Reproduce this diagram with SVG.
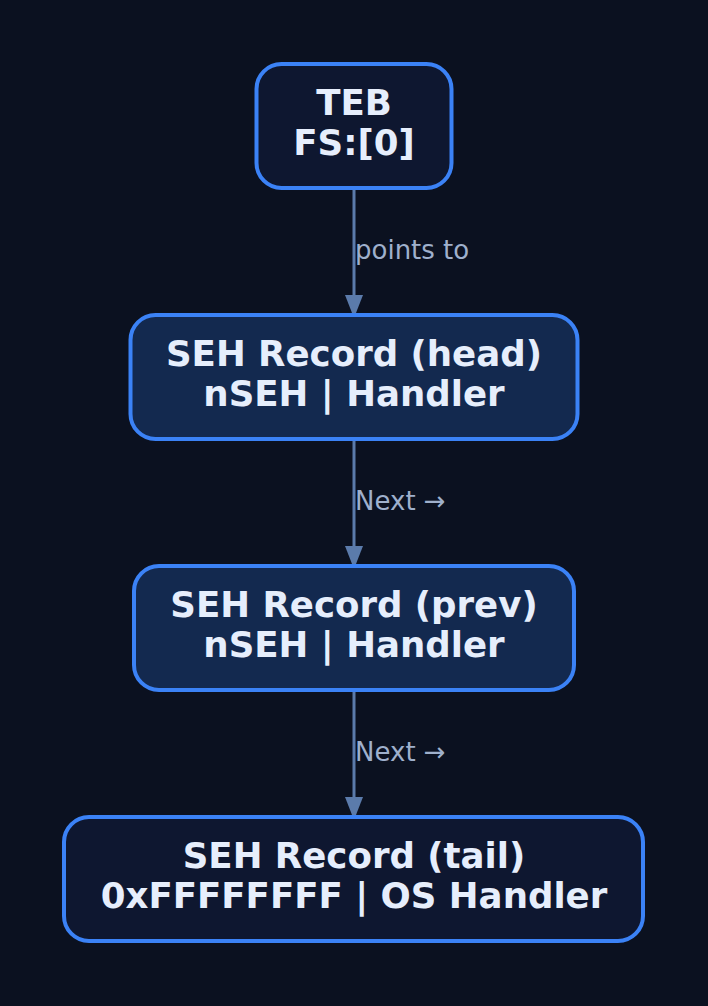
<svg xmlns="http://www.w3.org/2000/svg" width="708" height="1006" viewBox="0 0 708 1006">
<style>
.bg{fill:#0b1120}
.node rect{stroke:#3b82f6;stroke-width:4}
.dark{fill:#0e1730}
.mid{fill:#13294f}
.node text{font-family:"DejaVu Sans",sans-serif;font-weight:bold;font-size:35.6px;fill:#e6eefc;text-anchor:middle}
.edge line{stroke:#5b7bab;stroke-width:3}
.edge path{fill:#5b7bab}
.lbl{font-family:"DejaVu Sans",sans-serif;font-size:26px;fill:#9fb0cc}
</style>
<rect class="bg" x="0" y="0" width="708" height="1006"/>
<g id="connectors" class="edge">
<line x1="354" y1="188" x2="354" y2="296"/>
<path d="M345,295 L363,295 L354,318 Z"/>
<text class="lbl" x="355" y="259">points to</text>
<line x1="354" y1="439" x2="354" y2="547"/>
<path d="M345,546 L363,546 L354,569 Z"/>
<text class="lbl" x="355" y="510">Next →</text>
<line x1="354" y1="690" x2="354" y2="798"/>
<path d="M345,797 L363,797 L354,820 Z"/>
<text class="lbl" x="355" y="761">Next →</text>
</g>
<g id="teb" class="node">
<rect class="dark" x="256.5" y="64" width="195" height="124" rx="25"/>
<text x="354" y="115">TEB</text>
<text x="354" y="155">FS:[0]</text>
</g>
<g id="head" class="node">
<rect class="mid" x="130.5" y="315" width="447" height="124" rx="25"/>
<text x="354" y="366">SEH Record (head)</text>
<text x="354" y="406">nSEH | Handler</text>
</g>
<g id="prev" class="node">
<rect class="mid" x="134" y="566" width="440" height="124" rx="25"/>
<text x="354" y="617">SEH Record (prev)</text>
<text x="354" y="657">nSEH | Handler</text>
</g>
<g id="tail" class="node">
<rect class="dark" x="64" y="817" width="579" height="124" rx="25"/>
<text x="354" y="868">SEH Record (tail)</text>
<text x="354" y="908">0xFFFFFFFF | OS Handler</text>
</g>
</svg>
